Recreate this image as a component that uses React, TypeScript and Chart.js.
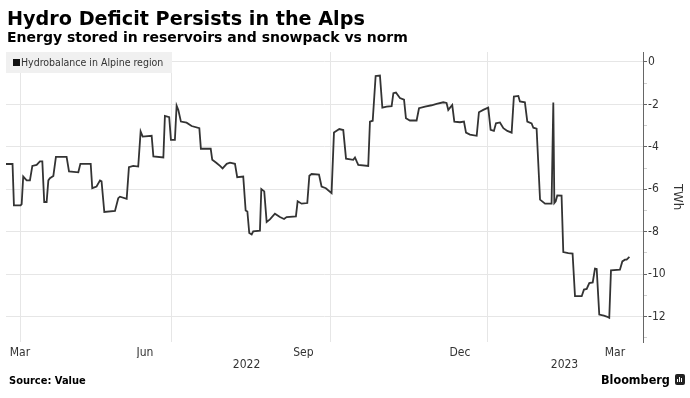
import React, { useEffect, useRef } from "react";
import { Chart, registerables } from "chart.js";

Chart.register(...registerables);

// x values: days since 2022-03-01
const days = [
  11.3, 15.1, 15.9, 19.8, 20.4, 21.3, 23.3, 25.2, 26.6, 29.1, 31.0, 32.4, 33.5, 34.9, 35.9, 36.8, 38.8, 40.3,
  46.5, 47.9, 53.3, 54.5, 60.5, 61.4, 63.9, 65.9, 66.8, 68.4, 74.6, 76.5, 77.5, 81.4, 82.7, 85.2, 88.1, 89.5,
  90.7, 95.9, 96.9, 102.7, 103.6, 106.1, 107.1, 109.4, 110.4, 111.4, 112.9, 116.2, 119.1, 123.6, 124.5, 130.2,
  131.1, 133.6, 135.6, 137.1, 139.5, 141.4, 144.3, 145.6, 149.1, 150.5, 151.5, 152.6, 154.0, 154.9, 158.8,
  159.6, 161.3, 162.7, 164.6, 167.5, 170.4, 172.8, 174.3, 179.7, 180.7, 183.0, 186.3, 187.5, 188.8, 193.1,
  194.6, 197.1, 200.4, 201.8, 204.9, 207.2, 208.8, 213.0, 214.0, 215.0, 215.9, 221.7, 222.7, 224.3, 226.0,
  228.5, 229.9, 232.4, 235.3, 236.3, 237.8, 240.1, 242.5, 243.6, 245.9, 249.8, 251.2, 254.7, 258.5, 261.4,
  265.3, 267.2, 268.2, 270.5, 271.7, 275.0, 277.3, 278.5, 280.8, 284.7, 286.0, 288.5, 291.4, 292.8, 294.7,
  295.9, 298.2, 300.2, 302.5, 305.0, 306.3, 308.9, 309.8, 312.7, 314.1, 316.6, 317.6, 319.5, 321.5, 324.4,
  328.2, 329.2, 329.8, 330.6, 331.5, 334.0, 335.0, 337.9, 340.4, 341.8, 345.7, 347.0, 348.6, 350.1, 352.1,
  353.4, 354.4, 355.9, 358.6, 360.2, 361.7, 362.7, 367.9, 369.3, 370.8, 371.8, 373.4,
];

const values = [
  -4.81, -4.81, -6.76, -6.76, -6.7, -5.4, -5.58, -5.58, -4.9, -4.85, -4.69, -4.69, -6.6, -6.6, -5.58, -5.48,
  -5.37, -4.47, -4.47, -5.16, -5.2, -4.8, -4.8, -5.95, -5.87, -5.58, -5.62, -7.07, -7.02, -6.42, -6.35, -6.45,
  -4.96, -4.9, -4.93, -3.28, -3.52, -3.48, -4.45, -4.5, -2.54, -2.6, -3.67, -3.67, -2.06, -2.27, -2.81, -2.86,
  -3.02, -3.12, -4.09, -4.09, -4.61, -4.76, -4.9, -5.02, -4.8, -4.75, -4.8, -5.43, -5.4, -7.0, -7.05, -8.06,
  -8.13, -7.98, -7.95, -5.99, -6.1, -7.54, -7.42, -7.15, -7.31, -7.4, -7.31, -7.28, -6.57, -6.68, -6.65, -5.36,
  -5.28, -5.31, -5.87, -5.95, -6.18, -3.33, -3.16, -3.21, -4.56, -4.61, -4.5, -4.69, -4.85, -4.9, -2.81, -2.77,
  -0.66, -0.64, -2.15, -2.1, -2.08, -1.47, -1.44, -1.7, -1.78, -2.65, -2.76, -2.76, -2.18, -2.1, -2.04, -1.98,
  -1.9, -1.93, -2.26, -2.03, -2.81, -2.84, -2.81, -3.33, -3.42, -3.48, -2.37, -2.26, -2.15, -3.2, -3.25, -2.89,
  -2.85, -3.12, -3.25, -3.33, -1.63, -1.6, -1.86, -1.9, -2.81, -2.9, -3.1, -3.14, -6.49, -6.68, -6.68, -1.91,
  -6.65, -6.57, -6.29, -6.3, -8.96, -9.01, -9.03, -11.04, -11.04, -10.73, -10.7, -10.42, -10.39, -9.74, -9.76,
  -11.91, -11.96, -12.0, -12.06, -9.82, -9.79, -9.4, -9.32, -9.32, -9.19,
];

const seriesName = "Hydrobalance in Alpine region";
const monthTickDays = [19.4, 92, 184, 275, 365];
const monthTickLabels = ["Mar", "Jun", "Sep", "Dec", "Mar"];
const gridDays = [20, 107.7, 199.5, 290.7];
const yearTickDays = [151, 335.7];
const yearTickLabels = ["2022", "2023"];
const yTickValues = [0, -1, -2, -3, -4, -5, -6, -7, -8, -9, -10, -11, -12, -13];
const xMin = 11.3;
const xMax = 381.3;
const yMin = -13.2;
const yMax = 0.47;

const COND = '"DejaVu Sans Condensed", "DejaVu Sans", sans-serif';

export default function App() {
  const ref = useRef<HTMLCanvasElement>(null);

  useEffect(() => {
    const points = days.map((d, i) => ({ x: d, y: values[i] }));
    const chart = new Chart(ref.current!, {
      type: "line",
      data: {
        datasets: [
          {
            label: seriesName,
            data: points,
            borderColor: "#333333",
            borderWidth: 1.8,
            pointRadius: 0,
            tension: 0,
            fill: false,
          },
        ],
      },
      options: {
        animation: false,
        responsive: false,
        parsing: true,
        layout: { padding: { left: 6, top: 52, right: 0, bottom: 0 } },
        plugins: { legend: { display: false }, tooltip: { enabled: false } },
        scales: {
          x: {
            type: "linear",
            position: "bottom",
            weight: 0,
            min: xMin,
            max: xMax,
            border: { display: false },
            grid: { color: "#e6e6e6", lineWidth: 1, drawTicks: false },
            ticks: { display: false },
            afterBuildTicks: (s: any) => {
              s.ticks = gridDays.map((v) => ({ value: v }));
            },
            afterFit: (s: any) => {
              s.height = 0;
            },
          },
          xm: {
            type: "linear",
            position: "bottom",
            weight: 1,
            min: xMin,
            max: xMax,
            border: { display: false },
            grid: { display: false, drawTicks: false },
            ticks: {
              autoSkip: false,
              maxRotation: 0,
              padding: 4,
              color: "#333",
              font: { family: COND, size: 12 },
              callback: (_v: any, i: number) => monthTickLabels[i],
            },
            afterBuildTicks: (s: any) => {
              s.ticks = monthTickDays.map((v) => ({ value: v }));
            },
            afterFit: (s: any) => {
              s.height = 16;
            },
          },
          xy: {
            type: "linear",
            position: "bottom",
            weight: 2,
            min: xMin,
            max: xMax,
            border: { display: false },
            grid: { display: false, drawTicks: false },
            ticks: {
              autoSkip: false,
              maxRotation: 0,
              padding: 0,
              color: "#333",
              font: { family: COND, size: 12 },
              callback: (_v: any, i: number) => yearTickLabels[i],
            },
            afterBuildTicks: (s: any) => {
              s.ticks = yearTickDays.map((v) => ({ value: v }));
            },
            afterFit: (s: any) => {
              s.height = 40;
            },
          },
          y: {
            type: "linear",
            position: "right",
            min: yMin,
            max: yMax,
            border: { display: true, color: "#666", width: 1 },
            grid: {
              color: (c: any) => (c.tick && c.tick.value % 2 === 0 ? "#e6e6e6" : "rgba(0,0,0,0)"),
              tickColor: (c: any) => (c.tick && c.tick.value % 2 === 0 ? "#666" : "#cfcfcf"),
              tickLength: 4,
              drawTicks: true,
            },
            ticks: {
              autoSkip: false,
              padding: 1,
              color: "#333",
              font: { family: COND, size: 12 },
              callback: (v: any) => (Math.round(v) % 2 === 0 ? String(v) : ""),
            },
            title: {
              display: true,
              text: "TWh",
              color: "#333",
              font: { family: COND, size: 13 },
              padding: { top: 5, bottom: 0 },
            },
            afterBuildTicks: (s: any) => {
              s.ticks = yTickValues.map((v) => ({ value: v }));
            },
            afterFit: (s: any) => {
              s.width = 47;
            },
          },
        },
      },
    } as any);
    return () => chart.destroy();
  }, []);

  return (
    <div
      style={{
        position: "absolute",
        left: 0,
        top: 0,
        width: 690,
        height: 398,
        background: "#fff",
        overflow: "hidden",
      }}
    >
      <canvas
        ref={ref}
        width={690}
        height={398}
        style={{ position: "absolute", left: 0, top: 0, width: 690, height: 398 }}
      />
      <div
        style={{
          position: "absolute",
          left: 7,
          top: 8,
          font: 'bold 19.2px "DejaVu Sans", sans-serif',
          lineHeight: "22px",
          color: "#000",
          whiteSpace: "nowrap",
        }}
      >
        Hydro Deficit Persists in the Alps
      </div>
      <div
        style={{
          position: "absolute",
          left: 7,
          top: 29,
          font: 'bold 14px "DejaVu Sans", sans-serif',
          lineHeight: "16px",
          color: "#000",
          whiteSpace: "nowrap",
        }}
      >
        Energy stored in reservoirs and snowpack vs norm
      </div>
      <div
        style={{
          position: "absolute",
          left: 6,
          top: 52,
          width: 166,
          height: 21,
          background: "#f0f0f0",
        }}
      >
        <div
          style={{
            position: "absolute",
            left: 7,
            top: 7,
            width: 7,
            height: 7,
            background: "#111",
          }}
        />
        <div
          style={{
            position: "absolute",
            left: 15,
            top: 0,
            font: `10.5px ${COND}`,
            lineHeight: "21px",
            color: "#333",
            whiteSpace: "nowrap",
          }}
        >
          {seriesName}
        </div>
      </div>
      <div
        style={{
          position: "absolute",
          left: 9,
          top: 374,
          font: `bold 11px ${COND}`,
          lineHeight: "14px",
          color: "#000",
          whiteSpace: "nowrap",
        }}
      >
        Source: Value
      </div>
      <div
        style={{
          position: "absolute",
          left: 601,
          top: 372,
          font: `bold 12.5px ${COND}`,
          lineHeight: "16px",
          color: "#000",
          whiteSpace: "nowrap",
        }}
      >
        Bloomberg
      </div>
      <div
        style={{
          position: "absolute",
          left: 675,
          top: 374,
          width: 10,
          height: 11,
          borderRadius: 2,
          background: "#222",
        }}
      >
        <div style={{ position: "absolute", left: 2, top: 5, width: 1, height: 3, background: "#fff" }} />
        <div style={{ position: "absolute", left: 4, top: 3, width: 1, height: 5, background: "#fff" }} />
        <div style={{ position: "absolute", left: 6, top: 4, width: 1, height: 4, background: "#fff" }} />
      </div>
    </div>
  );
}
